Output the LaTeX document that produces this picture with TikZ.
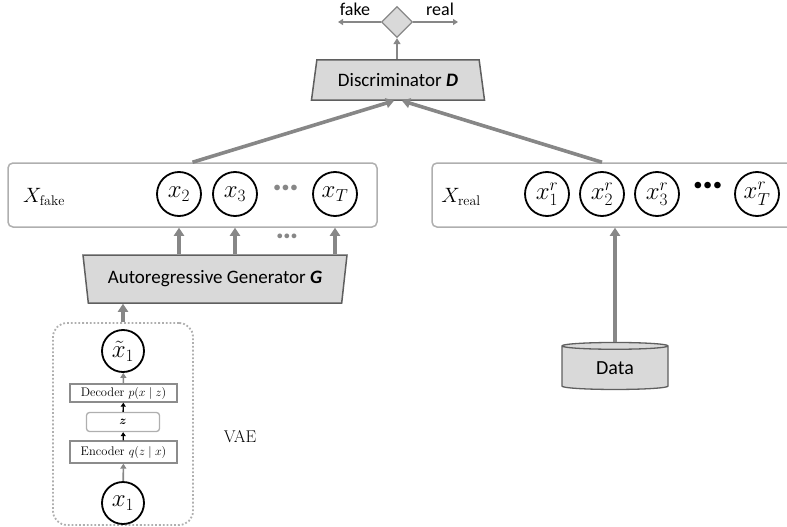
\documentclass[tikz,border=0pt]{standalone}
\usepackage{amsmath}
\usepackage{fontspec}
\newfontfamily\carl{Carlito}
\usetikzlibrary{shapes.geometric,arrows.meta}
\definecolor{agray}{RGB}{135,135,135}
\definecolor{tfill}{RGB}{217,217,217}
\definecolor{tdraw}{RGB}{95,95,95}
\definecolor{bgray}{RGB}{175,175,175}
\begin{document}
\begin{tikzpicture}[x=1pt,y=-1pt,
  bigarr/.style={draw=agray, line width=3.6pt, -{Triangle[length=8pt,width=10pt]}},
  midarr/.style={draw=agray, line width=2.5pt, -{Triangle[length=6pt,width=7pt]}},
  thinarr/.style={draw=agray, line width=1.6pt, -{Triangle[length=5pt,width=6pt]}},
  blkarr/.style={draw=black, line width=1.4pt, -{Triangle[length=4pt,width=5pt]}},
  trapbox/.style={trapezium, draw=tdraw, fill=tfill, line width=1.5pt, inner sep=0pt, trapezium stretches body, font=\carl\fontsize{19}{19}\selectfont},
  xbox/.style={draw=bgray, line width=1.5pt, rounded corners=5pt, inner sep=0pt},
  var/.style={circle, draw=black, line width=1.8pt, inner sep=0pt, minimum size=44pt, font=\fontsize{27}{27}\selectfont},
  svar/.style={circle, draw=black, line width=1.8pt, inner sep=0pt, minimum size=42pt, font=\fontsize{27}{27}\selectfont},
  lab/.style={inner sep=0pt, font=\fontsize{20}{20}\selectfont},
  vaebox/.style={draw=bgray!80!black, line width=1.3pt, inner sep=0pt, font=\fontsize{12.5}{12.5}\selectfont}
]
\useasboundingbox (0,0) rectangle (787,527);

% Discriminator and decision
\node[trapbox, trapezium left angle=68, trapezium right angle=68, minimum width=173pt, minimum height=40pt] (disc) at (398,80) {Discriminator \textbf{\textit{D}}};
\node[diamond, draw=agray, fill=tfill, line width=1.3pt, inner sep=0pt, minimum width=31pt, minimum height=31pt] (dec) at (397,22) {};
\coordinate (fakeend) at (338,22);
\coordinate (realend) at (458,22);
\node[inner sep=0pt, font=\carl\fontsize{18}{18}\selectfont] (fake) at (355,9) {fake};
\node[inner sep=0pt, font=\carl\fontsize{18}{18}\selectfont] (real) at (440,9) {real};
\draw[thinarr] (dec.west) -- (fakeend);
\draw[thinarr] (dec.east) -- (realend);
\draw[midarr] (disc.north -| dec.south) -- (dec.south);

% X fake
\node[xbox, minimum width=369pt, minimum height=64pt] (xfake) at (192.5,195) {};
\node[lab] (lfake) at (44,197) {$X_{\mathrm{fake}}$};
\node[var] (x2) at (179,194) {$x_2$};
\node[var] (x3) at (235,194) {$x_3$};
\node[inner sep=0pt, text=agray, font=\carl\bfseries\fontsize{38}{38}\selectfont] (fdots) at (286,188) {…};
\node[var] (xT) at (335,194) {$x_T$};

% X real
\node[xbox, minimum width=380pt, minimum height=64pt] (xreal) at (622,195) {};
\node[lab] (lreal) at (461,197) {$X_{\mathrm{real}}$};
\node[var] (x1r) at (547,194) {$x^r_1$};
\node[var] (x2r) at (602,194) {$x^r_2$};
\node[var] (x3r) at (657,194) {$x^r_3$};
\node[inner sep=0pt, font=\carl\bfseries\fontsize{44}{44}\selectfont] (rdots) at (708,186) {…};
\node[var] (xTr) at (757,194) {$x^r_T$};

\draw[bigarr] (xfake.north) -- ([xshift=-4pt]disc.south);
\draw[bigarr] (xreal.north -| x2r) -- ([xshift=4pt]disc.south);

% Generator
\node[trapbox, trapezium left angle=108, trapezium right angle=108, minimum width=264pt, minimum height=48pt] (gen) at (215,279) {Autoregressive Generator \textbf{\textit{G}}};
\draw[bigarr] (gen.north -| x2) -- (xfake.south -| x2);
\draw[bigarr] (gen.north -| x3) -- (xfake.south -| x3);
\draw[bigarr] (gen.north -| xT) -- (xfake.south -| xT);
\node[inner sep=0pt, text=agray, font=\carl\bfseries\fontsize{32}{32}\selectfont] (gdots) at (287,236) {…};

% VAE
\node[draw=bgray, dotted, line width=1.8pt, rounded corners=14pt, minimum width=140pt, minimum height=202pt, inner sep=0pt] (vae) at (123,424) {};
\node[svar] (xt1) at (123,351) {$\tilde{x}_1$};
\node[vaebox, minimum width=107pt, minimum height=18pt] (decd) at (123.5,393) {Decoder $p(x\mid z)$};
\node[vaebox, draw=bgray, rounded corners=3pt, minimum width=73pt, minimum height=19pt] (zz) at (123,422) {$\boldsymbol{z}$};
\node[vaebox, minimum width=107pt, minimum height=22pt] (encd) at (123.5,452) {Encoder $q(z\mid x)$};
\node[svar] (x1) at (123,503) {$x_1$};
\draw[thinarr] (x1) -- (encd);
\draw[blkarr] (encd) -- (zz);
\draw[blkarr] (zz) -- (decd);
\draw[thinarr] (decd) -- (xt1);
\draw[bigarr] (vae.north) -- (gen.south -| vae.north);
\node[inner sep=0pt, font=\fontsize{17}{17}\selectfont] (vaelab) at (240,437) {VAE};

% Data
\node[cylinder, shape border rotate=90, aspect=0.18, draw=tdraw, fill=tfill, line width=1.3pt, minimum width=106pt, minimum height=47pt, inner sep=0pt, font=\carl\fontsize{20}{20}\selectfont] (data) at (615,368) {Data};
\draw[bigarr] (data.north) -- (xreal.south -| data.north);
\end{tikzpicture}
\end{document}
